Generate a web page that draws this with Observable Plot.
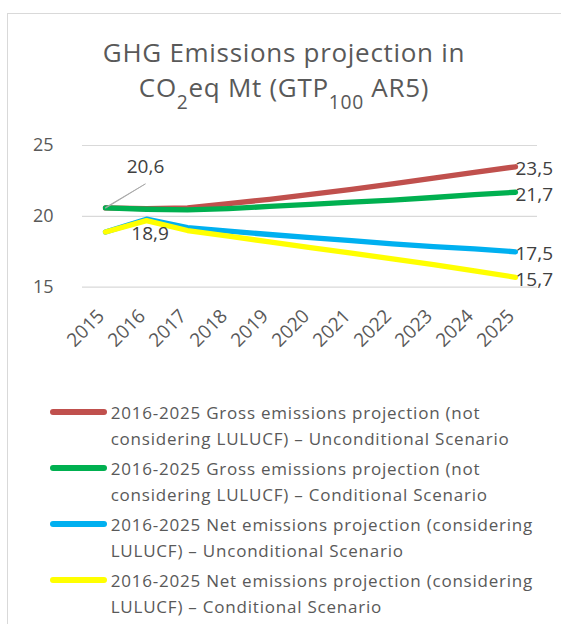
<!DOCTYPE html>
<html>
<head>
<meta charset="utf-8">
<script src="https://cdn.jsdelivr.net/npm/d3@7"></script>
<script src="https://cdn.jsdelivr.net/npm/@observablehq/plot@0.6"></script>
<style>
  html, body { margin: 0; padding: 0; background: #fff; }
  #wrap { position: relative; width: 561px; height: 624px; overflow: hidden; background: #fff; font-family: "Open Sans", sans-serif; }
  #frame { position: absolute; left: 7px; top: 13px; width: 700px; height: 800px; border: 1px solid #d9d9d9; box-sizing: border-box; }
  #title { position: absolute; left: 7px; width: 554px; top: 35px; text-align: center; font-size: 26px; letter-spacing: 0.7px; line-height: 35px; color: #595959; }
  #title .sub { font-size: 0.74em; position: relative; top: 12px; line-height: 0; }
  #chart { position: absolute; left: 0; top: 120px; }
  #legend { position: absolute; left: 0; top: 400px; width: 561px; }
  .entry { position: relative; margin-bottom: 4px; }
  .sw { position: absolute; left: 50px; top: 9.3px; width: 57px; height: 5.3px; border-radius: 3px; }
  .lt { margin-left: 110.7px; width: 442px; font-size: 17px; letter-spacing: 0.78px; line-height: 26px; color: #595959; }
</style>
</head>
<body>
<div id="wrap">
  <div id="frame"></div>
  <div id="title">GHG Emissions projection in<br>CO<span class="sub">2</span>eq Mt (GTP<span class="sub">100</span> AR5)</div>
  <div id="chart"></div>
  <div id="legend"></div>
</div>
<script>
const years = [2015, 2016, 2017, 2018, 2019, 2020, 2021, 2022, 2023, 2024, 2025];
const seriesNames = [
  "2016-2025 Gross emissions projection (not considering LULUCF) – Unconditional Scenario",
  "2016-2025 Gross emissions projection (not considering LULUCF) – Conditional Scenario",
  "2016-2025 Net emissions projection (considering LULUCF) – Unconditional Scenario",
  "2016-2025 Net emissions projection (considering LULUCF) – Conditional Scenario"
];
const grossUnconditional = [20.6, 20.55, 20.6, 20.9, 21.2, 21.55, 21.9, 22.3, 22.7, 23.1, 23.5];
const grossConditional   = [20.6, 20.5, 20.45, 20.55, 20.7, 20.85, 21.0, 21.14, 21.33, 21.53, 21.7];
const netUnconditional   = [18.9, 19.8, 19.2, 18.95, 18.72, 18.5, 18.28, 18.05, 17.87, 17.7, 17.5];
const netConditional     = [18.9, 19.7, 19.0, 18.6, 18.2, 17.8, 17.4, 17.0, 16.6, 16.15, 15.7];
const seriesColors = ["#C0504D", "#00B050", "#00B0F0", "#FFFF00"];
const yTicks = [15, 20, 25];

const allSeries = [grossUnconditional, grossConditional, netUnconditional, netConditional];
const rows = [];
allSeries.forEach((vals, i) => {
  vals.forEach((v, j) => rows.push({series: seriesNames[i], year: years[j], value: v}));
});
const lastRows = rows.filter(d => d.year === years[years.length - 1]);
const fmt = v => d3.format(".1f")(v).replace(".", ",");
const firstGross = rows.filter(d => d.series === seriesNames[0] && d.year === years[0]);
const firstNet = rows.filter(d => d.series === seriesNames[3] && d.year === years[0]);

const chart = Plot.plot({
  width: 561,
  height: 250,
  marginLeft: 82,
  marginRight: 24,
  marginTop: 25,
  marginBottom: 83.3,
  style: {fontFamily: "Open Sans", fontSize: "18px", background: "transparent", overflow: "visible"},
  x: {type: "point", domain: years, padding: 0.5, axis: null},
  y: {domain: [15, 25], axis: null},
  color: {domain: seriesNames, range: seriesColors},
  marks: [
    Plot.ruleY(yTicks, {stroke: "#d9d9d9", strokeWidth: 1.2}),
    Plot.axisY({ticks: yTicks, label: null, tickSize: 0, tickPadding: 29, fontSize: 18, fill: "#595959", tickFormat: d => String(d)}),
    Plot.text(years, {x: d => d, frameAnchor: "bottom", rotate: -45, textAnchor: "end", dx: 0, dy: 30, fontSize: 19, fill: "#595959", text: d => String(d)}),
    Plot.line(rows, {x: "year", y: "value", z: "series", stroke: "series", strokeWidth: 5.3, strokeLinecap: "round", strokeLinejoin: "round"}),
    Plot.vector(firstGross, {x: "year", y: "value", length: 46.6, rotate: 59, anchor: "start", shape: "spike", r: 0.4, fill: "#a6a6a6", stroke: "#a6a6a6", strokeWidth: 0.7}),
    Plot.text(firstGross, {x: "year", y: "value", text: d => fmt(d.value), dx: 40, dy: -41, fontSize: 19, fill: "#404040"}),
    Plot.text(firstNet, {x: "year", y: "value", text: d => fmt(d.value), dx: 44.6, dy: 1.7, fontSize: 19, fill: "#404040"}),
    Plot.text(lastRows, {x: "year", y: "value", text: d => fmt(d.value), textAnchor: "start", dx: 0, dy: 2.5, fontSize: 19, fill: "#404040"})
  ]
});
document.getElementById("chart").appendChild(chart);

const legend = document.getElementById("legend");
seriesNames.forEach((name, i) => {
  const e = document.createElement("div");
  e.className = "entry";
  const sw = document.createElement("div");
  sw.className = "sw";
  sw.style.background = seriesColors[i];
  const t = document.createElement("div");
  t.className = "lt";
  t.textContent = name;
  e.appendChild(sw);
  e.appendChild(t);
  legend.appendChild(e);
});
</script>
</body>
</html>
